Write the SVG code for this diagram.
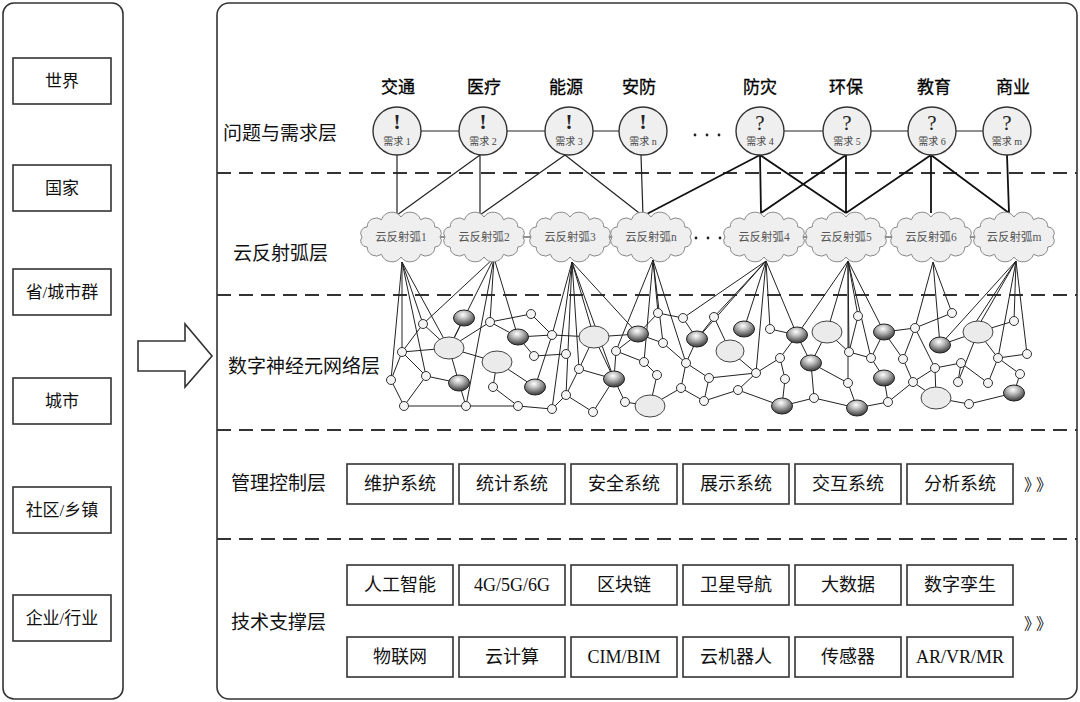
<svg xmlns="http://www.w3.org/2000/svg" xmlns:xlink="http://www.w3.org/1999/xlink" width="1080" height="702" viewBox="0 0 1080 702">
<style>
text{font-family:"Liberation Serif","Noto Sans CJK SC",serif;fill:#111}
.panel{fill:#fff;stroke:#333;stroke-width:1.6}
.box{fill:#fff;stroke:#333;stroke-width:1.6}
.bt{font-size:17px;text-anchor:middle}
.mt{font-size:18px;text-anchor:middle}
.lay{font-size:19px}
.cat{font-size:17px;text-anchor:middle;fill:#000;stroke:#000;stroke-width:0.3}
.dash{stroke:#333;stroke-width:2;stroke-dasharray:14 8;fill:none}
.dem{fill:#efefef;stroke:#333;stroke-width:1.4}
.mark{font-size:21px;text-anchor:middle;fill:#222}
.dl{font-size:10px;text-anchor:middle;fill:#444}
.cl{fill:#efefef;stroke:#888;stroke-width:1}
.clt{font-size:11.5px;text-anchor:middle;fill:#555}
.thin{stroke:#222;stroke-width:1.2;fill:none}
.thick{stroke:#111;stroke-width:1.8;fill:none}
.net{stroke:#222;stroke-width:1;fill:none}
.sn{fill:#f4f4f4;stroke:#333;stroke-width:1}
.ln{fill:#ebebeb;stroke:#444;stroke-width:1}
.dn{fill:url(#dg);stroke:#222;stroke-width:1}
.dot{fill:#222}
.more{font-size:16px;letter-spacing:4px}
</style>
<defs>
<radialGradient id="dg" cx="0.45" cy="0.3" r="0.75">
<stop offset="0" stop-color="#ffffff"/>
<stop offset="0.35" stop-color="#bcbcbc"/>
<stop offset="0.8" stop-color="#555"/>
<stop offset="1" stop-color="#333"/>
</radialGradient>
<path id="cloud" d="M39,0 A6.2,6.2 0 0 1 33.8,10 A9,9 0 0 1 19.5,17.3 A11,11 0 0 1 0,20 A11,11 0 0 1 -19.5,17.3 A9,9 0 0 1 -33.8,10 A6.2,6.2 0 0 1 -39,0 A6.2,6.2 0 0 1 -33.8,-10 A9,9 0 0 1 -19.5,-17.3 A11,11 0 0 1 0,-20 A11,11 0 0 1 19.5,-17.3 A9,9 0 0 1 33.8,-10 A6.2,6.2 0 0 1 39,0 Z"/>
</defs>
<rect width="1080" height="702" fill="#fff"/>

<!-- left scale panel -->
<g id="scale-panel">
<rect class="panel" x="3" y="3" width="120" height="696" rx="11"/>
<g id="s-world"><rect class="box" x="13" y="58" width="98" height="46"/><text class="bt" x="62" y="87">世界</text></g>
<g id="s-country"><rect class="box" x="13" y="165" width="98" height="46"/><text class="bt" x="62" y="194">国家</text></g>
<g id="s-province"><rect class="box" x="13" y="269" width="98" height="46"/><text class="bt" x="62" y="298">省/城市群</text></g>
<g id="s-city"><rect class="box" x="13" y="378" width="98" height="46"/><text class="bt" x="62" y="407">城市</text></g>
<g id="s-community"><rect class="box" x="13" y="487" width="98" height="46"/><text class="bt" x="62" y="516">社区/乡镇</text></g>
<g id="s-enterprise"><rect class="box" x="13" y="595" width="98" height="46"/><text class="bt" x="62" y="624">企业/行业</text></g>
</g>

<g id="big-arrow"><polygon points="138,341 185,341 185,324 212,356 185,387 185,371 138,371" fill="#fff" stroke="#333" stroke-width="1.6"/></g>

<!-- main panel -->
<g id="main-panel">
<rect class="panel" x="217" y="3" width="860" height="696" rx="12"/>
<line class="dash" x1="217" y1="173" x2="1077" y2="173"/>
<line class="dash" x1="217" y1="295" x2="1077" y2="295"/>
<line class="dash" x1="217" y1="430" x2="1077" y2="430"/>
<line class="dash" x1="217" y1="539" x2="1077" y2="539"/>
<text class="lay" x="223" y="140">问题与需求层</text>
<text class="lay" x="233" y="260">云反射弧层</text>
<text class="lay" x="228" y="373">数字神经元网络层</text>
<text class="lay" x="231" y="490">管理控制层</text>
<text class="lay" x="231" y="629">技术支撑层</text>
</g>

<!-- connectors -->
<g id="connectors">
<path class="thin" d="M397 131H643M760 131H1007M401 237H651M764 237H1014"/>
<path class="thin" d="M397 155L397 215M480 155L397 215M480 155L480 215M565 155L480 215M565 155L643 216M641 155L643 216"/>
<path class="thick" d="M643 216L760 155M760 155L761 213M760 155L846 213M846 155L761 213M846 155L846 213M931 155L846 213M931 155L931 213M931 155L1009 213M1007 155L1009 213"/>
<!-- cloud fans -->
<path class="net" d="M402 262L391 380M402 262L402 352M402 262L423 324M402 262L426 376M402 262L449 348
M494 258L423 324M494 258L449 348M494 258L466 406M494 258L490 322M494 258L518 337
M572 262L552 335M572 262L552 409M572 262L566 395M572 262L579 369M572 262L594 337M572 262L614 379M572 262L638 334
M653 260L616 351M653 260L644 362M653 260L658 313M653 260L663 343M653 260L686 363
M766 261L683 318M766 261L697 339M766 261L714 317M766 261L744 329M766 261L756 373M766 261L770 329M766 261L797 335
M848 261L797 335M848 261L827 332M848 261L848 383M848 261L849 352M848 261L858 316M848 261L871 358M848 261L884 332
M933 262L915 328M933 262L940 345M933 262L952 313
M1016 261L940 345M1016 261L972 328M1016 261L976 330M1016 261L1014 321M1016 261L998 358M1016 261L1027 354"/>
<!-- network edges -->
<path class="net" d="M423 324L402 352M423 324L449 348M402 352L449 348M402 352L391 380M402 352L426 376M391 380L404 406M426 376L404 406M426 376L459 383M449 348L459 383M449 348L464 318M449 348L490 322M449 348L497 362M404 406L466 406M466 406L459 383M466 406L518 406M490 322L518 337M490 322L531 314M531 314L552 335M518 337L552 335M518 337L534 356M534 356L566 354M497 362L493 387M497 362L535 387M493 387L518 406M535 387L552 335M518 406L552 409
M552 335L594 337M594 337L638 334M594 337L579 369M594 337L614 379M579 369L614 379M579 369L566 395M566 395L552 409M566 395L593 412M593 412L614 379M614 379L625 402M625 402L650 406M650 406L657 375M657 375L644 362M644 362L616 351M616 351L614 379M616 351L638 334M638 334L658 313M638 334L663 343M658 313L683 318M683 318L697 339M663 343L686 363M686 363L697 339M686 363L709 378M686 363L681 388M681 388L704 401M681 388L650 406M709 378L704 401M714 317L697 339M714 317L730 351M709 378L756 373M704 401L738 390
M730 351L756 373M756 373L780 358M780 358L797 335M770 329L797 335M780 358L785 379M785 379L782 406M738 390L782 406M756 373L738 390M782 406L814 398M814 398L811 363M797 335L811 363M811 363L848 383M827 332L811 363M814 398L857 408M857 408L848 383M827 332L849 352M858 316L849 352M849 352L871 358M871 358L884 332M871 358L884 378M884 378L888 402M857 408L888 402M884 332L903 359M888 402L913 382M884 332L915 328
M915 328L952 313M915 328L903 359M915 328L935 368M940 345L978 332M903 359L913 382M935 368L961 363M935 368L913 382M935 368L936 398M961 363L988 383M913 382L936 398M936 398L969 404M969 404L1014 393M1014 393L1020 374M958 382L978 332M958 382L961 363M988 383L998 358M998 358L978 332M998 358L1027 354M998 358L1020 374M978 332L1014 321"/>
</g>

<!-- demand nodes -->
<g id="demand-1"><text class="cat" x="398" y="93">交通</text><circle class="dem" cx="397" cy="131" r="24"/><text class="mark" x="397" y="129" font-weight="bold">!</text><text class="dl" x="397" y="145">需求 1</text></g>
<g id="demand-2"><text class="cat" x="484" y="93">医疗</text><circle class="dem" cx="483" cy="131" r="24"/><text class="mark" x="483" y="129" font-weight="bold">!</text><text class="dl" x="483" y="145">需求 2</text></g>
<g id="demand-3"><text class="cat" x="566" y="93">能源</text><circle class="dem" cx="569" cy="131" r="24"/><text class="mark" x="569" y="129" font-weight="bold">!</text><text class="dl" x="569" y="145">需求 3</text></g>
<g id="demand-n"><text class="cat" x="639" y="93">安防</text><circle class="dem" cx="643" cy="131" r="24"/><text class="mark" x="643" y="129" font-weight="bold">!</text><text class="dl" x="643" y="145">需求 n</text></g>
<g id="dots-top"><circle class="dot" cx="695" cy="135" r="1.4"/><circle class="dot" cx="707" cy="135" r="1.4"/><circle class="dot" cx="719" cy="135" r="1.4"/></g>
<g id="demand-4"><text class="cat" x="760" y="93">防灾</text><circle class="dem" cx="760" cy="131" r="24"/><text class="mark" x="760" y="130">?</text><text class="dl" x="760" y="145">需求 4</text></g>
<g id="demand-5"><text class="cat" x="846" y="93">环保</text><circle class="dem" cx="847" cy="131" r="24"/><text class="mark" x="847" y="130">?</text><text class="dl" x="847" y="145">需求 5</text></g>
<g id="demand-6"><text class="cat" x="934" y="93">教育</text><circle class="dem" cx="932" cy="131" r="24"/><text class="mark" x="932" y="130">?</text><text class="dl" x="932" y="145">需求 6</text></g>
<g id="demand-m"><text class="cat" x="1013" y="93">商业</text><circle class="dem" cx="1007" cy="131" r="24"/><text class="mark" x="1007" y="130">?</text><text class="dl" x="1007" y="145">需求 m</text></g>

<!-- cloud reflex arcs -->
<g id="arc-1"><use href="#cloud" xlink:href="#cloud" class="cl" x="401" y="237"/><text class="clt" x="401" y="241">云反射弧1</text></g>
<g id="arc-2"><use href="#cloud" xlink:href="#cloud" class="cl" x="484" y="237"/><text class="clt" x="484" y="241">云反射弧2</text></g>
<g id="arc-3"><use href="#cloud" xlink:href="#cloud" class="cl" x="570" y="237"/><text class="clt" x="570" y="241">云反射弧3</text></g>
<g id="arc-n"><use href="#cloud" xlink:href="#cloud" class="cl" x="651" y="237"/><text class="clt" x="651" y="241">云反射弧n</text></g>
<g id="dots-mid"><circle class="dot" cx="696" cy="238" r="1.4"/><circle class="dot" cx="708" cy="238" r="1.4"/><circle class="dot" cx="720" cy="238" r="1.4"/></g>
<g id="arc-4"><use href="#cloud" xlink:href="#cloud" class="cl" x="764" y="237"/><text class="clt" x="764" y="241">云反射弧4</text></g>
<g id="arc-5"><use href="#cloud" xlink:href="#cloud" class="cl" x="846" y="237"/><text class="clt" x="846" y="241">云反射弧5</text></g>
<g id="arc-6"><use href="#cloud" xlink:href="#cloud" class="cl" x="931" y="237"/><text class="clt" x="931" y="241">云反射弧6</text></g>
<g id="arc-m"><use href="#cloud" xlink:href="#cloud" class="cl" x="1014" y="237"/><text class="clt" x="1014" y="241">云反射弧m</text></g>

<!-- neuron network -->
<g id="neural-net">
<g id="n-small">
<circle class="sn" cx="423" cy="324" r="4.5"/><circle class="sn" cx="402" cy="352" r="4.5"/><circle class="sn" cx="391" cy="380" r="4.5"/><circle class="sn" cx="426" cy="376" r="4.5"/><circle class="sn" cx="404" cy="406" r="4.5"/><circle class="sn" cx="466" cy="406" r="4.5"/><circle class="sn" cx="490" cy="322" r="4.5"/><circle class="sn" cx="534" cy="356" r="4.5"/><circle class="sn" cx="493" cy="387" r="4.5"/><circle class="sn" cx="518" cy="406" r="4.5"/><circle class="sn" cx="531" cy="314" r="4.5"/><circle class="sn" cx="552" cy="335" r="4.5"/><circle class="sn" cx="552" cy="409" r="4.5"/>
<circle class="sn" cx="566" cy="354" r="4.5"/><circle class="sn" cx="616" cy="351" r="4.5"/><circle class="sn" cx="579" cy="369" r="4.5"/><circle class="sn" cx="566" cy="395" r="4.5"/><circle class="sn" cx="593" cy="412" r="4.5"/><circle class="sn" cx="625" cy="402" r="4.5"/><circle class="sn" cx="644" cy="362" r="4.5"/><circle class="sn" cx="657" cy="375" r="4.5"/><circle class="sn" cx="658" cy="313" r="4.5"/><circle class="sn" cx="663" cy="343" r="4.5"/><circle class="sn" cx="683" cy="318" r="4.5"/><circle class="sn" cx="686" cy="363" r="4.5"/><circle class="sn" cx="681" cy="388" r="4.5"/><circle class="sn" cx="709" cy="378" r="4.5"/><circle class="sn" cx="704" cy="401" r="4.5"/><circle class="sn" cx="714" cy="317" r="4.5"/>
<circle class="sn" cx="770" cy="329" r="4.5"/><circle class="sn" cx="780" cy="358" r="4.5"/><circle class="sn" cx="756" cy="373" r="4.5"/><circle class="sn" cx="785" cy="379" r="4.5"/><circle class="sn" cx="738" cy="390" r="4.5"/><circle class="sn" cx="814" cy="398" r="4.5"/><circle class="sn" cx="858" cy="316" r="4.5"/><circle class="sn" cx="849" cy="352" r="4.5"/><circle class="sn" cx="848" cy="383" r="4.5"/><circle class="sn" cx="871" cy="358" r="4.5"/><circle class="sn" cx="888" cy="402" r="4.5"/>
<circle class="sn" cx="952" cy="313" r="4.5"/><circle class="sn" cx="915" cy="328" r="4.5"/><circle class="sn" cx="1014" cy="321" r="4.5"/><circle class="sn" cx="1027" cy="354" r="4.5"/><circle class="sn" cx="998" cy="358" r="4.5"/><circle class="sn" cx="903" cy="359" r="4.5"/><circle class="sn" cx="935" cy="368" r="4.5"/><circle class="sn" cx="961" cy="363" r="4.5"/><circle class="sn" cx="913" cy="382" r="4.5"/><circle class="sn" cx="958" cy="382" r="4.5"/><circle class="sn" cx="988" cy="383" r="4.5"/><circle class="sn" cx="1020" cy="374" r="4.5"/><circle class="sn" cx="969" cy="404" r="4.5"/>
</g>
<g id="n-large">
<ellipse class="ln" cx="449" cy="348" rx="15" ry="11"/><ellipse class="ln" cx="497" cy="362" rx="15" ry="11"/><ellipse class="ln" cx="594" cy="337" rx="15" ry="11"/><ellipse class="ln" cx="650" cy="406" rx="15" ry="11"/><ellipse class="ln" cx="730" cy="351" rx="14" ry="11"/><ellipse class="ln" cx="827" cy="332" rx="15" ry="11"/><ellipse class="ln" cx="978" cy="332" rx="15" ry="11"/><ellipse class="ln" cx="936" cy="398" rx="15" ry="11"/>
</g>
<g id="n-dark">
<ellipse class="dn" cx="464" cy="318" rx="10.5" ry="8"/><ellipse class="dn" cx="459" cy="383" rx="10.5" ry="8"/><ellipse class="dn" cx="518" cy="337" rx="10.5" ry="8"/><ellipse class="dn" cx="535" cy="387" rx="10.5" ry="8"/><ellipse class="dn" cx="638" cy="334" rx="10.5" ry="8"/><ellipse class="dn" cx="614" cy="379" rx="10.5" ry="8"/><ellipse class="dn" cx="697" cy="339" rx="10.5" ry="8"/><ellipse class="dn" cx="744" cy="329" rx="10.5" ry="8"/><ellipse class="dn" cx="797" cy="335" rx="10.5" ry="8"/><ellipse class="dn" cx="782" cy="406" rx="10.5" ry="8"/><ellipse class="dn" cx="811" cy="363" rx="10.5" ry="8"/><ellipse class="dn" cx="857" cy="408" rx="10.5" ry="8"/><ellipse class="dn" cx="884" cy="332" rx="10.5" ry="8"/><ellipse class="dn" cx="884" cy="378" rx="10.5" ry="8"/><ellipse class="dn" cx="940" cy="345" rx="10.5" ry="8"/><ellipse class="dn" cx="1014" cy="393" rx="10.5" ry="8"/>
</g>
</g>

<!-- management layer -->
<g id="m-1"><rect class="box" x="347" y="464" width="106" height="40"/><text class="mt" x="400" y="490">维护系统</text></g>
<g id="m-2"><rect class="box" x="459" y="464" width="106" height="40"/><text class="mt" x="512" y="490">统计系统</text></g>
<g id="m-3"><rect class="box" x="571" y="464" width="106" height="40"/><text class="mt" x="624" y="490">安全系统</text></g>
<g id="m-4"><rect class="box" x="683" y="464" width="106" height="40"/><text class="mt" x="736" y="490">展示系统</text></g>
<g id="m-5"><rect class="box" x="795" y="464" width="106" height="40"/><text class="mt" x="848" y="490">交互系统</text></g>
<g id="m-6"><rect class="box" x="907" y="464" width="106" height="40"/><text class="mt" x="960" y="490">分析系统</text></g>
<text class="more" x="1024" y="490">》》</text>

<!-- technology layer -->
<g id="t-1"><rect class="box" x="347" y="565" width="106" height="40"/><text class="mt" x="400" y="591">人工智能</text></g>
<g id="t-2"><rect class="box" x="459" y="565" width="106" height="40"/><text class="mt" x="512" y="591">4G/5G/6G</text></g>
<g id="t-3"><rect class="box" x="571" y="565" width="106" height="40"/><text class="mt" x="624" y="591">区块链</text></g>
<g id="t-4"><rect class="box" x="683" y="565" width="106" height="40"/><text class="mt" x="736" y="591">卫星导航</text></g>
<g id="t-5"><rect class="box" x="795" y="565" width="106" height="40"/><text class="mt" x="848" y="591">大数据</text></g>
<g id="t-6"><rect class="box" x="907" y="565" width="106" height="40"/><text class="mt" x="960" y="591">数字孪生</text></g>
<g id="t-7"><rect class="box" x="347" y="637" width="106" height="40"/><text class="mt" x="400" y="663">物联网</text></g>
<g id="t-8"><rect class="box" x="459" y="637" width="106" height="40"/><text class="mt" x="512" y="663">云计算</text></g>
<g id="t-9"><rect class="box" x="571" y="637" width="106" height="40"/><text class="mt" x="624" y="663">CIM/BIM</text></g>
<g id="t-10"><rect class="box" x="683" y="637" width="106" height="40"/><text class="mt" x="736" y="663">云机器人</text></g>
<g id="t-11"><rect class="box" x="795" y="637" width="106" height="40"/><text class="mt" x="848" y="663">传感器</text></g>
<g id="t-12"><rect class="box" x="907" y="637" width="106" height="40"/><text class="mt" x="960" y="663">AR/VR/MR</text></g>
<text class="more" x="1024" y="629">》》</text>
</svg>
